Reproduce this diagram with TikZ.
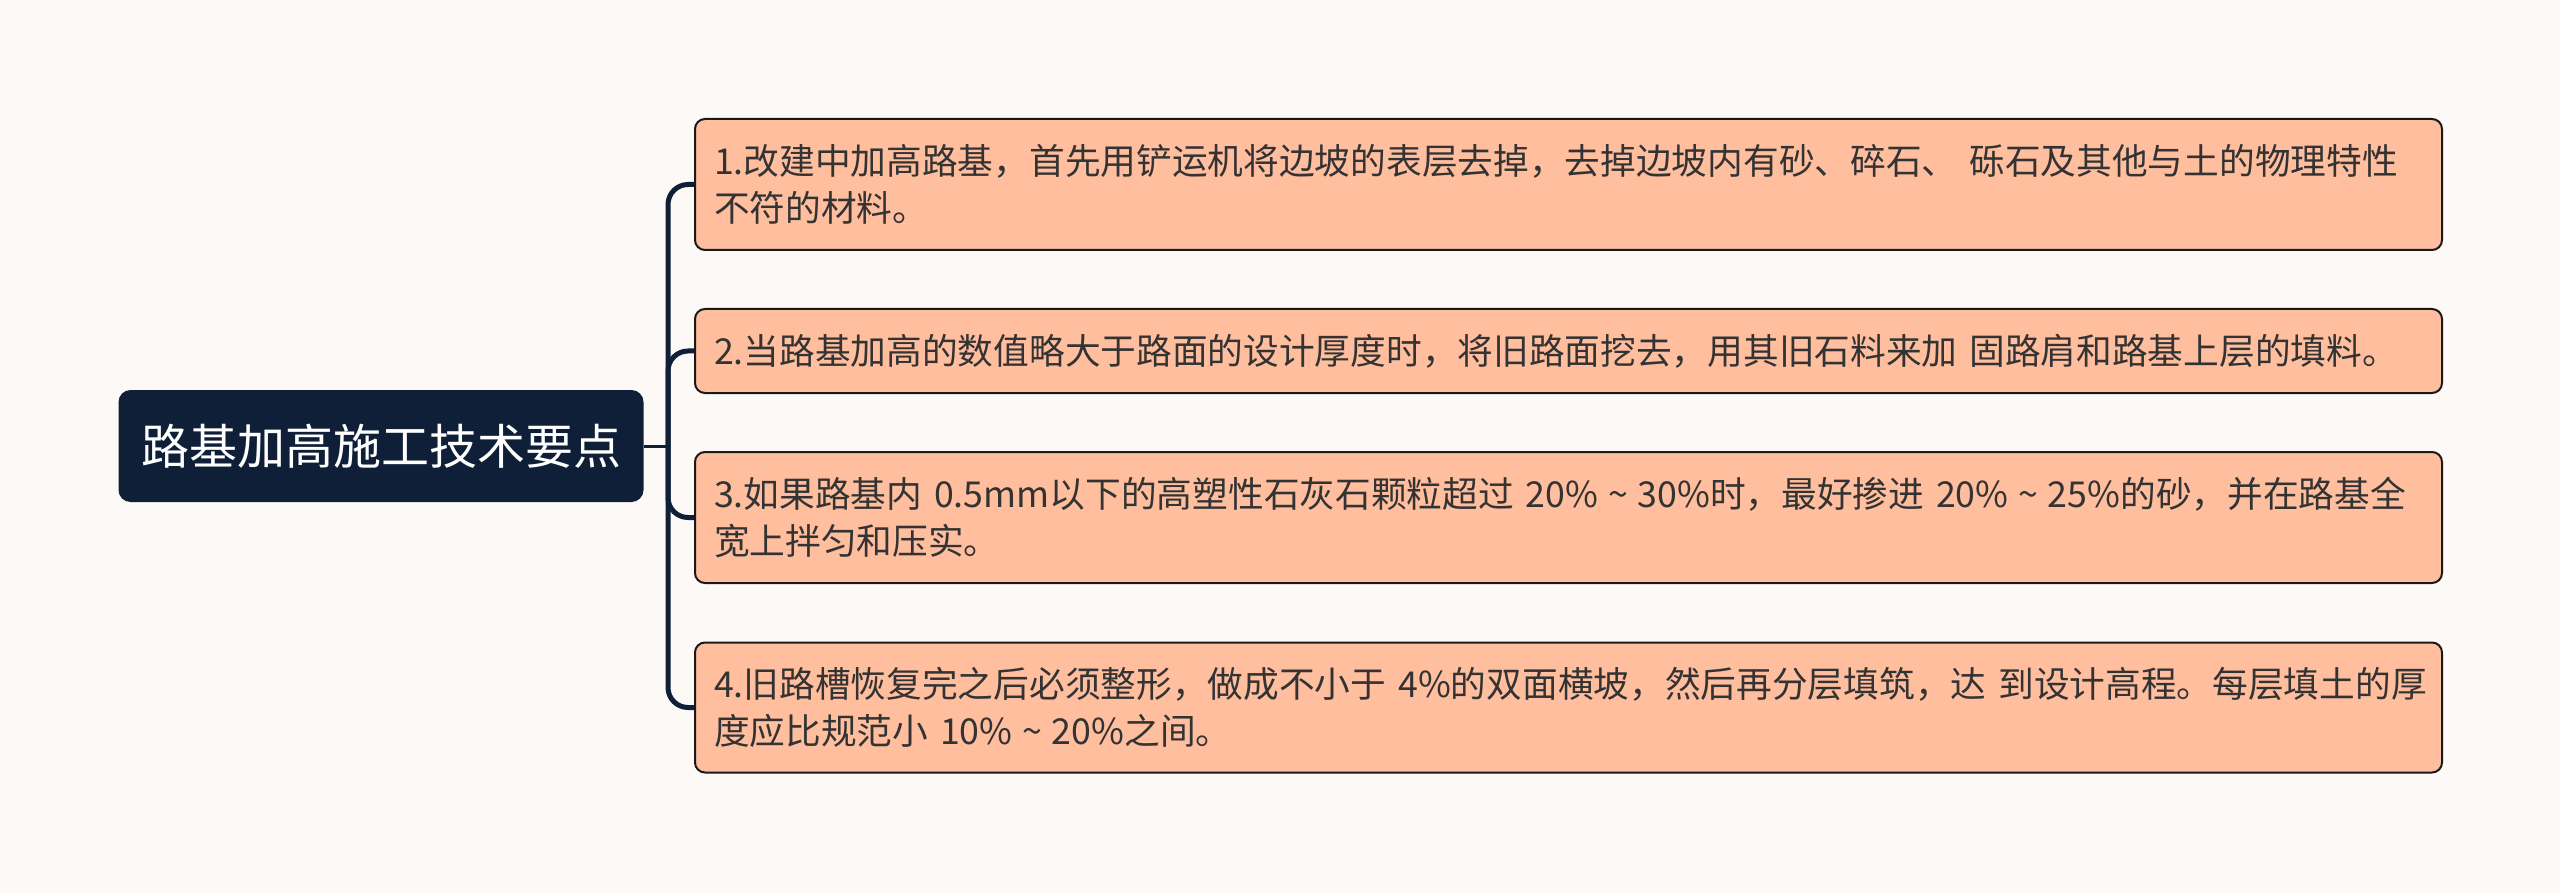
\documentclass[tikz,border=0pt]{standalone}
\usepackage{fontspec}
\setmainfont{Noto Sans CJK SC}
\usepackage{tikz}
\definecolor{bgcol}{HTML}{FDF9F7}
\definecolor{rootcol}{HTML}{0F1F38}
\definecolor{boxcol}{HTML}{FFBE9E}
\definecolor{txtcol}{HTML}{333333}
\newcommand{\wave}{\makebox[1.1em]{\textasciitilde}}

\begin{document}
\begin{tikzpicture}[x=0.5pt,y=-0.5pt,
    rootbox/.style={fill=rootcol,rounded corners=6pt,text=white,
      minimum width=262.5pt,minimum height=56pt,
      font=\fontsize{24}{28}\selectfont},
    item/.style={draw=black!90,line width=1pt,fill=boxcol,rounded corners=5pt,
      anchor=west,text width=854.5pt,inner xsep=9.5pt,align=left,
      text=txtcol,font=\fontsize{17.85}{23.5}\selectfont},
    link/.style={rootcol,line width=2.5pt,rounded corners=10pt}]
  \fill[bgcol] (0,0) rectangle (2560,893);
  \useasboundingbox (0,0) rectangle (2560,893);
  \node[rootbox] (root) at (381,446) {路基加高施工技术要点};
  \node[item,minimum height=65.5pt] (b1) at (694,184.5)
    {1.改建中加高路基，首先用铲运机将边坡的表层去掉，去掉边坡内有砂、碎石、~砾石及其他与土的物理特性\\不符的材料。};
  \node[item,minimum height=42pt] (b2) at (694,351)
    {2.当路基加高的数值略大于路面的设计厚度时，将旧路面挖去，用其旧石料来加~固路肩和路基上层的填料。};
  \node[item,minimum height=65.5pt] (b3) at (694,517.5)
    {3.如果路基内~0.5mm以下的高塑性石灰石颗粒超过~20\%\wave30\%时，最好掺进~20\%\wave25\%的砂，并在路基全\\宽上拌匀和压实。};
  \node[item,minimum height=65pt] (b4) at (694,707.5)
    {4.旧路槽恢复完之后必须整形，做成不小于~4\%的双面横坡，然后再分层填筑，达~到设计高程。每层填土的厚\\度应比规范小~10\%\wave20\%之间。};
  \coordinate (fork) at (668,446);
  \draw[rootcol,line width=1.5pt] (root.east) -- (fork);
  \foreach \b in {b1,b2,b3,b4}
    \draw[link] (fork) |- (\b.west);
\end{tikzpicture}
\end{document}
